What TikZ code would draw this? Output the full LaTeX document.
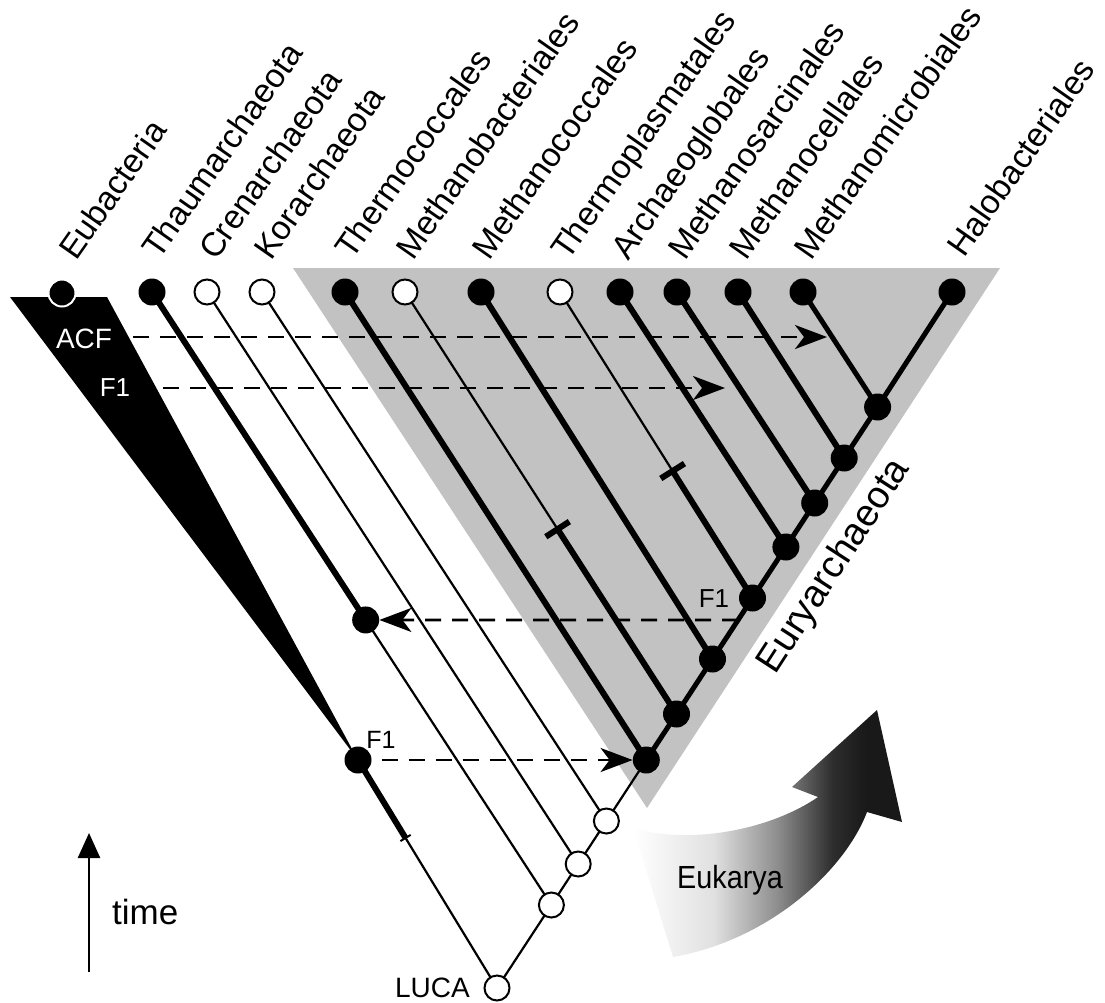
\documentclass[tikz,border=0pt]{standalone}
\usepackage{fontspec}
\setmainfont{Liberation Sans}
\usetikzlibrary{arrows.meta,calc}
\pgfdeclarelayer{bg}
\pgfsetlayers{bg,main}
\pgfdeclarehorizontalshading{eukshade}{100bp}{color(0bp)=(white); color(25bp)=(white); color(40bp)=(black!12); color(52bp)=(black!45); color(62bp)=(black!82); color(68bp)=(black!90); color(100bp)=(black!90)}
\definecolor{eurygray}{RGB}{194,194,194}
\begin{document}
\begin{tikzpicture}[x=1pt,y=-1pt,
  bdot/.style={circle,fill=black,minimum size=27pt,inner sep=0pt},
  odot/.style={circle,fill=white,draw=black,line width=2pt,minimum size=25pt,inner sep=0pt},
  thinbr/.style={line width=2.2pt},
  thickbr/.style={line width=6pt},
  trunkbr/.style={line width=5pt},
  tickmark/.style={line width=6pt},
  taxon/.style={rotate=55,anchor=base west,inner sep=0pt,font=\fontsize{33.5}{36}\selectfont},
  dasharrow/.style={line width=2.6pt,dash pattern=on 16pt off 11pt,-{Stealth[length=32pt,width=24pt,inset=9pt]}},
  smalllab/.style={inner sep=0pt,font=\fontsize{26}{28}\selectfont},
]
\useasboundingbox (0,0) rectangle (1105,1002);

% internal nodes
\node[odot] (luca) at (497,988) {};
\node[odot] (n1) at (551.4,905) {};
\node[odot] (n2) at (578.2,864) {};
\node[odot] (n3) at (606.4,821) {};
\node[bdot] (n4) at (646.3,760) {};
\node[bdot] (n5) at (676.5,714) {};
\node[bdot] (n6) at (712.5,659) {};
\node[bdot] (n7) at (752.5,598) {};
\node[bdot] (n8) at (785.9,547) {};
\node[bdot] (n9) at (814.7,503) {};
\node[bdot] (n10) at (844.2,458) {};
\node[bdot] (n11) at (877.6,407) {};
\node[bdot] (f1b) at (358,760) {};

% tips
\node[bdot,draw=white,line width=2pt] (eub) at (62,293) {};
\node[bdot] (thau) at (152,292) {};
\node[odot] (cren) at (207,292) {};
\node[odot] (kor) at (262,292) {};
\node[bdot] (tcoc) at (345,292) {};
\node[odot] (mbac) at (405,292) {};
\node[bdot] (mcoc) at (481,292) {};
\node[odot] (tpla) at (560,292) {};
\node[bdot] (arch) at (620,292) {};
\node[bdot] (msar) at (677,292) {};
\node[bdot] (mcel) at (738,292) {};
\node[bdot] (mmic) at (803,292) {};
\node[bdot] (halo) at (952,292) {};

\node[bdot] (thauF) at ($(thau)!0.535!(n1)$) {};
\coordinate (tk1) at ($(mbac)!0.562!(n5)$);
\coordinate (tk2) at ($(tpla)!0.585!(n7)$);
\coordinate (tkE) at ($(f1b)!0.342!(luca)$);

\begin{pgfonlayer}{bg}
\fill[eurygray] (293,268) -- (1000,268) -- (647,808) -- cycle;
\fill[black] (10,297) -- (107,297) -- (f1b.center) -- cycle;
% thin branches
\draw[thinbr] (thauF.center) -- (n1.center);
\draw[thinbr] (cren.center) -- (n2.center);
\draw[thinbr] (kor.center) -- (n3.center);
\draw[thinbr] (luca.center) -- (tkE);
\draw[thinbr] (luca.center) -- (n1.center) -- (n2.center) -- (n3.center) -- (n4.center);
\draw[thinbr] (mbac.center) -- (tk1);
\draw[thinbr] (tpla.center) -- (tk2);
% thick branches
\draw[thickbr] (thau.center) -- (thauF.center);
\draw[thickbr] (tcoc.center) -- (n4.center);
\draw[thickbr] (tk1) -- (n5.center);
\draw[thickbr] (mcoc.center) -- (n6.center);
\draw[thickbr] (tk2) -- (n7.center);
\draw[thickbr] (arch.center) -- (n8.center);
\draw[thickbr] (msar.center) -- (n9.center);
\draw[thickbr] (mcel.center) -- (n10.center);
\draw[trunkbr] (mmic.center) -- (n11.center);
\draw[thickbr] (f1b.center) -- (tkE);
\draw[trunkbr] (n4.center) -- (n5.center) -- (n6.center) -- (n7.center) -- (n8.center) -- (n9.center) -- (n10.center) -- (n11.center) -- (halo.center);
% tick marks
\draw[tickmark] ($(tk1)!14pt!90:(mbac)$) -- ($(tk1)!14pt!-90:(mbac)$);
\draw[tickmark] ($(tk2)!14pt!90:(tpla)$) -- ($(tk2)!14pt!-90:(tpla)$);
\draw[line width=2pt] ($(tkE)!6pt!90:(luca)$) -- ($(tkE)!6pt!-90:(luca)$);
\end{pgfonlayer}

% Eukarya arrow
\shade[shading=eukshade] (633,828) .. controls (690,845) and (770,830) .. (818,797) -- (792,787) -- (877,710) -- (902,822) -- (867,812) .. controls (845,870) and (770,940) .. (673,957) -- cycle;
\node[anchor=base,inner sep=0pt,xscale=0.9,font=\fontsize{32}{34}\selectfont] (euk) at (730,888) {Eukarya};

% dashed transfer arrows
\coordinate (a1s) at (133,337);
\coordinate (a1e) at (827,337);
\coordinate (a2s) at (163,388);
\coordinate (a2e) at (725,388);
\coordinate (a3s) at ($(n7)!0.36!(n6)$);
\draw[dasharrow] (a1s) -- (a1e);
\draw[dasharrow] (a2s) -- (a2e);
\draw[dasharrow] (a3s) -- (thauF);
\draw[dasharrow,shorten <=10pt] (f1b) -- (n4);

% small labels
\node[smalllab,text=white,font=\fontsize{28}{30}\selectfont] (lacf) at (84,339) {ACF};
\node[smalllab,text=white] (lf1w) at (115,388) {F1};
\node[smalllab] (lf1a) at (714,599) {F1};
\node[smalllab,font=\fontsize{25}{27}\selectfont] (lf1b) at (381,740) {F1};
\node[anchor=base east,inner sep=0pt,font=\fontsize{28}{30}\selectfont] (lluca) at (470,997) {LUCA};

% time arrow
\coordinate (t0) at (89,972);
\coordinate (t1) at (89,833);
\draw[line width=2.5pt,-{Triangle[length=25pt,width=22pt]}] (t0) -- (t1);
\node[anchor=base west,inner sep=0pt,font=\fontsize{35}{36}\selectfont] (ltime) at (112,924) {time};

% taxon labels
\node[taxon] at (76,262) {Eubacteria};
\node[taxon] at (159,261) {Thaumarchaeota};
\node[taxon] at (216,262) {Crenarchaeota};
\node[taxon] at (271,262) {Korarchaeota};
\node[taxon] at (352,261) {Thermococcales};
\node[taxon] at (413,262) {Methanobacteriales};
\node[taxon] at (489,262) {Methanococcales};
\node[taxon] at (568,262) {Thermoplasmatales};
\node[taxon] at (628,262) {Archaeoglobales};
\node[taxon] at (685,262) {Methanosarcinales};
\node[taxon] at (746,262) {Methanocellales};
\node[taxon] at (811,262) {Methanomicrobiales};
\node[taxon] at (964,259) {Halobacteriales};

\node[rotate=57,anchor=base,inner sep=0pt,font=\fontsize{38}{40}\selectfont] (leury) at (843,572) {Euryarchaeota};
\end{tikzpicture}
\end{document}
